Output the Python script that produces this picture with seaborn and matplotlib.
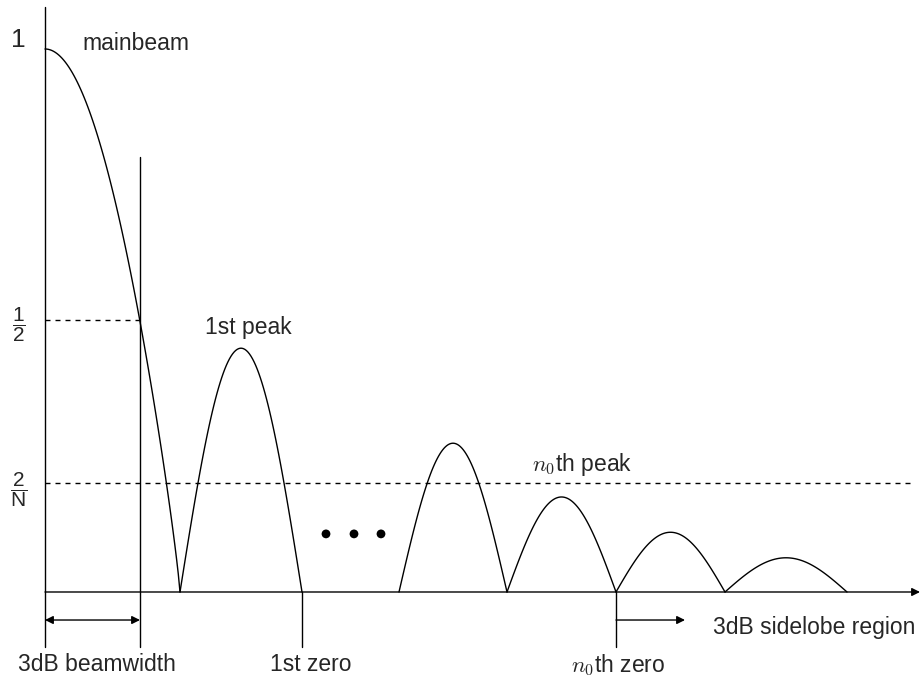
import numpy as np
import pandas as pd
import matplotlib
matplotlib.use("Agg")
import matplotlib.pyplot as plt
import seaborn as sns

# lobes of the beam pattern (x in arbitrary units from the origin, height relative to mainbeam)
lobe_left = [0, 135, 354, 462, 571, 680]
lobe_right = [135, 257, 462, 571, 680, 802]
lobe_height = [1.0, 0.449, 0.274, 0.175, 0.11, 0.063]

# ellipsis dots between the 1st and n0-th sidelobes
dots_x = [281, 309, 336]
dots_y = [0.107, 0.107, 0.107]

half_level = 0.5
sidelobe_level = 0.2      # 2/N
beam_edge = 95            # 3dB beamwidth
first_zero = 257
n0_zero = 571
x_end = 875

sns.set_style("white")
plt.rcParams["font.family"] = ["Liberation Sans", "DejaVu Sans"]
plt.rcParams["mathtext.fontset"] = "custom"
plt.rcParams["mathtext.rm"] = "Liberation Sans"
plt.rcParams["mathtext.it"] = "Liberation Sans:italic"

# build the curve, one arc per lobe (mainbeam is half an arc starting at its peak)
rows = []
for i, (a, b, h) in enumerate(zip(lobe_left, lobe_right, lobe_height)):
    t = np.linspace(0, 1, 80)
    if i == 0:
        yy = h * np.clip(np.cos(np.pi / 2 * t), 0, None) ** 0.87
    else:
        yy = h * np.sin(np.pi * t)
    for tt, v in zip(t, yy):
        rows.append({"x": a + (b - a) * tt, "y": v, "lobe": i})
df = pd.DataFrame(rows)

fig = plt.figure(figsize=(9.21, 6.76), dpi=100)
ax = fig.add_axes([0, 0, 1, 1])
ax.set_xlim(-45, 876)
ax.set_ylim(-0.1547, 1.0902)
ax.axis("off")

sns.lineplot(data=df, x="x", y="y", units="lobe", estimator=None,
             color="black", lw=1.0, ax=ax, legend=False)
sns.scatterplot(x=dots_x, y=dots_y, color="black", s=40, edgecolor="none", ax=ax)

# axes
ax.plot([0, 0], [-0.101, 1.077], color="black", lw=1.0)
ax.annotate("", xy=(x_end, 0), xytext=(0, 0),
            arrowprops=dict(arrowstyle="-|>", color="black", lw=1.0,
                            mutation_scale=12, shrinkA=0, shrinkB=0))

# reference levels
dash = (0, (3.6, 3.6))
ax.plot([0, beam_edge], [half_level, half_level], color="black", lw=1.0, ls=dash)
ax.plot([0, 865], [sidelobe_level, sidelobe_level], color="black", lw=1.0, ls=dash)

# markers
ax.plot([beam_edge, beam_edge], [-0.101, 0.801], color="black", lw=1.0)
ax.plot([first_zero, first_zero], [0, -0.101], color="black", lw=1.0)
ax.plot([n0_zero, n0_zero], [0, -0.101], color="black", lw=1.0)
ax.annotate("", xy=(beam_edge, -0.0516), xytext=(0, -0.0516),
            arrowprops=dict(arrowstyle="<|-|>", color="black", lw=1.0,
                            mutation_scale=12, shrinkA=0, shrinkB=0))
ax.annotate("", xy=(640, -0.0516), xytext=(n0_zero, -0.0516),
            arrowprops=dict(arrowstyle="-|>", color="black", lw=1.0,
                            mutation_scale=12, shrinkA=0, shrinkB=0))

# labels
fs = 16.5
ax.text(-26.5, 1.017, "1", fontsize=19, ha="center", va="center")
ax.text(37, 1.011, "mainbeam", fontsize=fs, ha="left", va="center")
ax.text(-26, 0.492, r"$\dfrac{1}{2}$", fontsize=15, ha="center", va="center",
        math_fontfamily="custom")
ax.text(-26, 0.188, r"$\dfrac{2}{\mathrm{N}}$", fontsize=15, ha="center", va="center",
        math_fontfamily="custom")
ax.text(203, 0.488, "1st peak", fontsize=fs, ha="center", va="center")
ax.text(487, 0.234, r"$n_0$th peak", fontsize=fs, ha="left", va="center",
        math_fontfamily="cm")
ax.text(52, -0.134, "3dB beamwidth", fontsize=fs, ha="center", va="center")
ax.text(266, -0.134, "1st zero", fontsize=fs, ha="center", va="center")
ax.text(573, -0.134, r"$n_0$th zero", fontsize=fs, ha="center", va="center",
        math_fontfamily="cm")
ax.text(668, -0.0645, "3dB sidelobe region", fontsize=fs, ha="left", va="center")

fig.savefig("out.png", dpi=100)
